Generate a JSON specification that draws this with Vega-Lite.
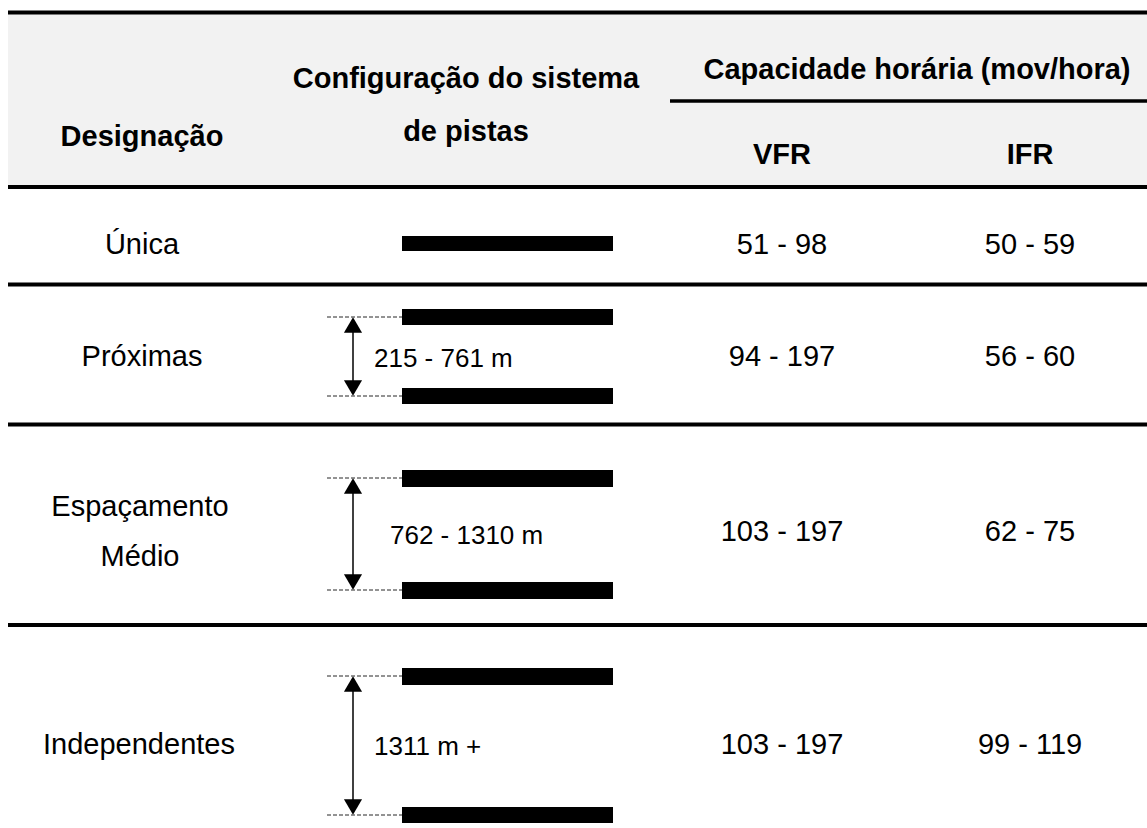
{
  "$schema": "https://vega.github.io/schema/vega-lite/v6.json",
  "width": 1147,
  "height": 828,
  "padding": 0,
  "autosize": {"type": "none"},
  "background": "white",
  "config": {"view": {"stroke": null}},
  "datasets": {
    "fundo": [{"x0": 8, "x1": 1147, "y0": 14, "y1": 185}],
    "linhas": [
      {"x0": 8, "x1": 1147, "y": 12.5},
      {"x0": 8, "x1": 1147, "y": 187},
      {"x0": 8, "x1": 1147, "y": 284.5},
      {"x0": 8, "x1": 1147, "y": 424.5},
      {"x0": 8, "x1": 1147, "y": 625}
    ],
    "sublinhado": [{"x0": 670, "x1": 1147, "y": 101}],
    "pistas": [
      {"designacao": "Única", "x0": 402, "x1": 613, "y0": 236, "y1": 251},
      {"designacao": "Próximas", "x0": 402, "x1": 613, "y0": 309, "y1": 325},
      {"designacao": "Próximas", "x0": 402, "x1": 613, "y0": 388, "y1": 404},
      {"designacao": "Espaçamento Médio", "x0": 402, "x1": 613, "y0": 470, "y1": 487},
      {"designacao": "Espaçamento Médio", "x0": 402, "x1": 613, "y0": 582, "y1": 599},
      {"designacao": "Independentes", "x0": 402, "x1": 613, "y0": 668, "y1": 685},
      {"designacao": "Independentes", "x0": 402, "x1": 613, "y0": 807, "y1": 823}
    ],
    "cotas": [
      {"designacao": "Próximas", "x0": 327, "x1": 402, "y": 317},
      {"designacao": "Próximas", "x0": 327, "x1": 402, "y": 396},
      {"designacao": "Espaçamento Médio", "x0": 327, "x1": 402, "y": 478},
      {"designacao": "Espaçamento Médio", "x0": 327, "x1": 402, "y": 590},
      {"designacao": "Independentes", "x0": 327, "x1": 402, "y": 676},
      {"designacao": "Independentes", "x0": 327, "x1": 402, "y": 815}
    ],
    "setas": [
      {"designacao": "Próximas", "x": 353, "y0": 320, "y1": 393},
      {"designacao": "Espaçamento Médio", "x": 353, "y0": 481, "y1": 587},
      {"designacao": "Independentes", "x": 353, "y0": 679, "y1": 812}
    ],
    "pontas": [
      {"designacao": "Próximas", "sentido": "cima", "x": 353, "y": 325},
      {"designacao": "Próximas", "sentido": "baixo", "x": 353, "y": 388},
      {"designacao": "Espaçamento Médio", "sentido": "cima", "x": 353, "y": 486},
      {"designacao": "Espaçamento Médio", "sentido": "baixo", "x": 353, "y": 582},
      {"designacao": "Independentes", "sentido": "cima", "x": 353, "y": 684},
      {"designacao": "Independentes", "sentido": "baixo", "x": 353, "y": 807}
    ],
    "cabecalho": [
      {"texto": "Designação", "x": 142, "y": 137},
      {"texto": "Configuração do sistema\nde pistas", "x": 466, "y": 79},
      {"texto": "Capacidade horária (mov/hora)", "x": 917, "y": 70},
      {"texto": "VFR", "x": 782, "y": 155},
      {"texto": "IFR", "x": 1030, "y": 155}
    ],
    "celulas": [
      {"texto": "Única", "x": 142, "y": 245},
      {"texto": "51 - 98", "x": 782, "y": 245},
      {"texto": "50 - 59", "x": 1030, "y": 245},
      {"texto": "Próximas", "x": 142, "y": 357},
      {"texto": "94 - 197", "x": 782, "y": 357},
      {"texto": "56 - 60", "x": 1030, "y": 357},
      {"texto": "Espaçamento\nMédio", "x": 140, "y": 507},
      {"texto": "103 - 197", "x": 782, "y": 532},
      {"texto": "62 - 75", "x": 1030, "y": 532},
      {"texto": "Independentes", "x": 139, "y": 745},
      {"texto": "103 - 197", "x": 782, "y": 745},
      {"texto": "99 - 119", "x": 1030, "y": 745}
    ],
    "rotulos": [
      {"texto": "215 - 761 m", "x": 374, "y": 359},
      {"texto": "762 - 1310 m", "x": 390, "y": 536},
      {"texto": "1311 m +", "x": 374, "y": 747}
    ]
  },
  "layer": [
    {
      "data": {"name": "fundo"},
      "mark": {"type": "rect", "color": "#f2f2f2"},
      "encoding": {
        "x": {"field": "x0", "type": "quantitative", "scale": {"domain": [0, 1147], "nice": false, "zero": false}, "axis": null},
        "x2": {"field": "x1"},
        "y": {"field": "y0", "type": "quantitative", "scale": {"domain": [0, 828], "nice": false, "zero": false, "reverse": true}, "axis": null},
        "y2": {"field": "y1"}
      }
    },
    {
      "data": {"name": "linhas"},
      "mark": {"type": "rule", "color": "black", "strokeWidth": 4},
      "encoding": {
        "x": {"field": "x0", "type": "quantitative"},
        "x2": {"field": "x1"},
        "y": {"field": "y", "type": "quantitative"}
      }
    },
    {
      "data": {"name": "sublinhado"},
      "mark": {"type": "rule", "color": "black", "strokeWidth": 3.5},
      "encoding": {
        "x": {"field": "x0", "type": "quantitative"},
        "x2": {"field": "x1"},
        "y": {"field": "y", "type": "quantitative"}
      }
    },
    {
      "data": {"name": "pistas"},
      "mark": {"type": "rect", "color": "black"},
      "encoding": {
        "x": {"field": "x0", "type": "quantitative"},
        "x2": {"field": "x1"},
        "y": {"field": "y0", "type": "quantitative"},
        "y2": {"field": "y1"}
      }
    },
    {
      "data": {"name": "cotas"},
      "mark": {"type": "rule", "color": "black", "strokeWidth": 1, "strokeDash": [4, 2], "opacity": 0.85},
      "encoding": {
        "x": {"field": "x0", "type": "quantitative"},
        "x2": {"field": "x1"},
        "y": {"field": "y", "type": "quantitative"}
      }
    },
    {
      "data": {"name": "setas"},
      "mark": {"type": "rule", "color": "black", "strokeWidth": 1.5},
      "encoding": {
        "x": {"field": "x", "type": "quantitative"},
        "y": {"field": "y0", "type": "quantitative"},
        "y2": {"field": "y1"}
      }
    },
    {
      "data": {"name": "pontas"},
      "mark": {"type": "point", "filled": true, "color": "black", "size": 330, "opacity": 1},
      "encoding": {
        "x": {"field": "x", "type": "quantitative"},
        "y": {"field": "y", "type": "quantitative"},
        "shape": {"field": "sentido", "type": "nominal", "scale": {"domain": ["cima", "baixo"], "range": ["triangle-up", "triangle-down"]}, "legend": null}
      }
    },
    {
      "data": {"name": "cabecalho"},
      "mark": {"type": "text", "font": "Liberation Sans", "fontSize": 29, "fontWeight": "bold", "color": "black", "align": "center", "baseline": "middle", "lineBreak": "\n", "lineHeight": 53},
      "encoding": {
        "x": {"field": "x", "type": "quantitative"},
        "y": {"field": "y", "type": "quantitative"},
        "text": {"field": "texto", "type": "nominal"}
      }
    },
    {
      "data": {"name": "celulas"},
      "mark": {"type": "text", "font": "Liberation Sans", "fontSize": 29, "color": "black", "align": "center", "baseline": "middle", "lineBreak": "\n", "lineHeight": 50},
      "encoding": {
        "x": {"field": "x", "type": "quantitative"},
        "y": {"field": "y", "type": "quantitative"},
        "text": {"field": "texto", "type": "nominal"}
      }
    },
    {
      "data": {"name": "rotulos"},
      "mark": {"type": "text", "font": "Liberation Sans", "fontSize": 26, "color": "black", "align": "left", "baseline": "middle"},
      "encoding": {
        "x": {"field": "x", "type": "quantitative"},
        "y": {"field": "y", "type": "quantitative"},
        "text": {"field": "texto", "type": "nominal"}
      }
    }
  ]
}
